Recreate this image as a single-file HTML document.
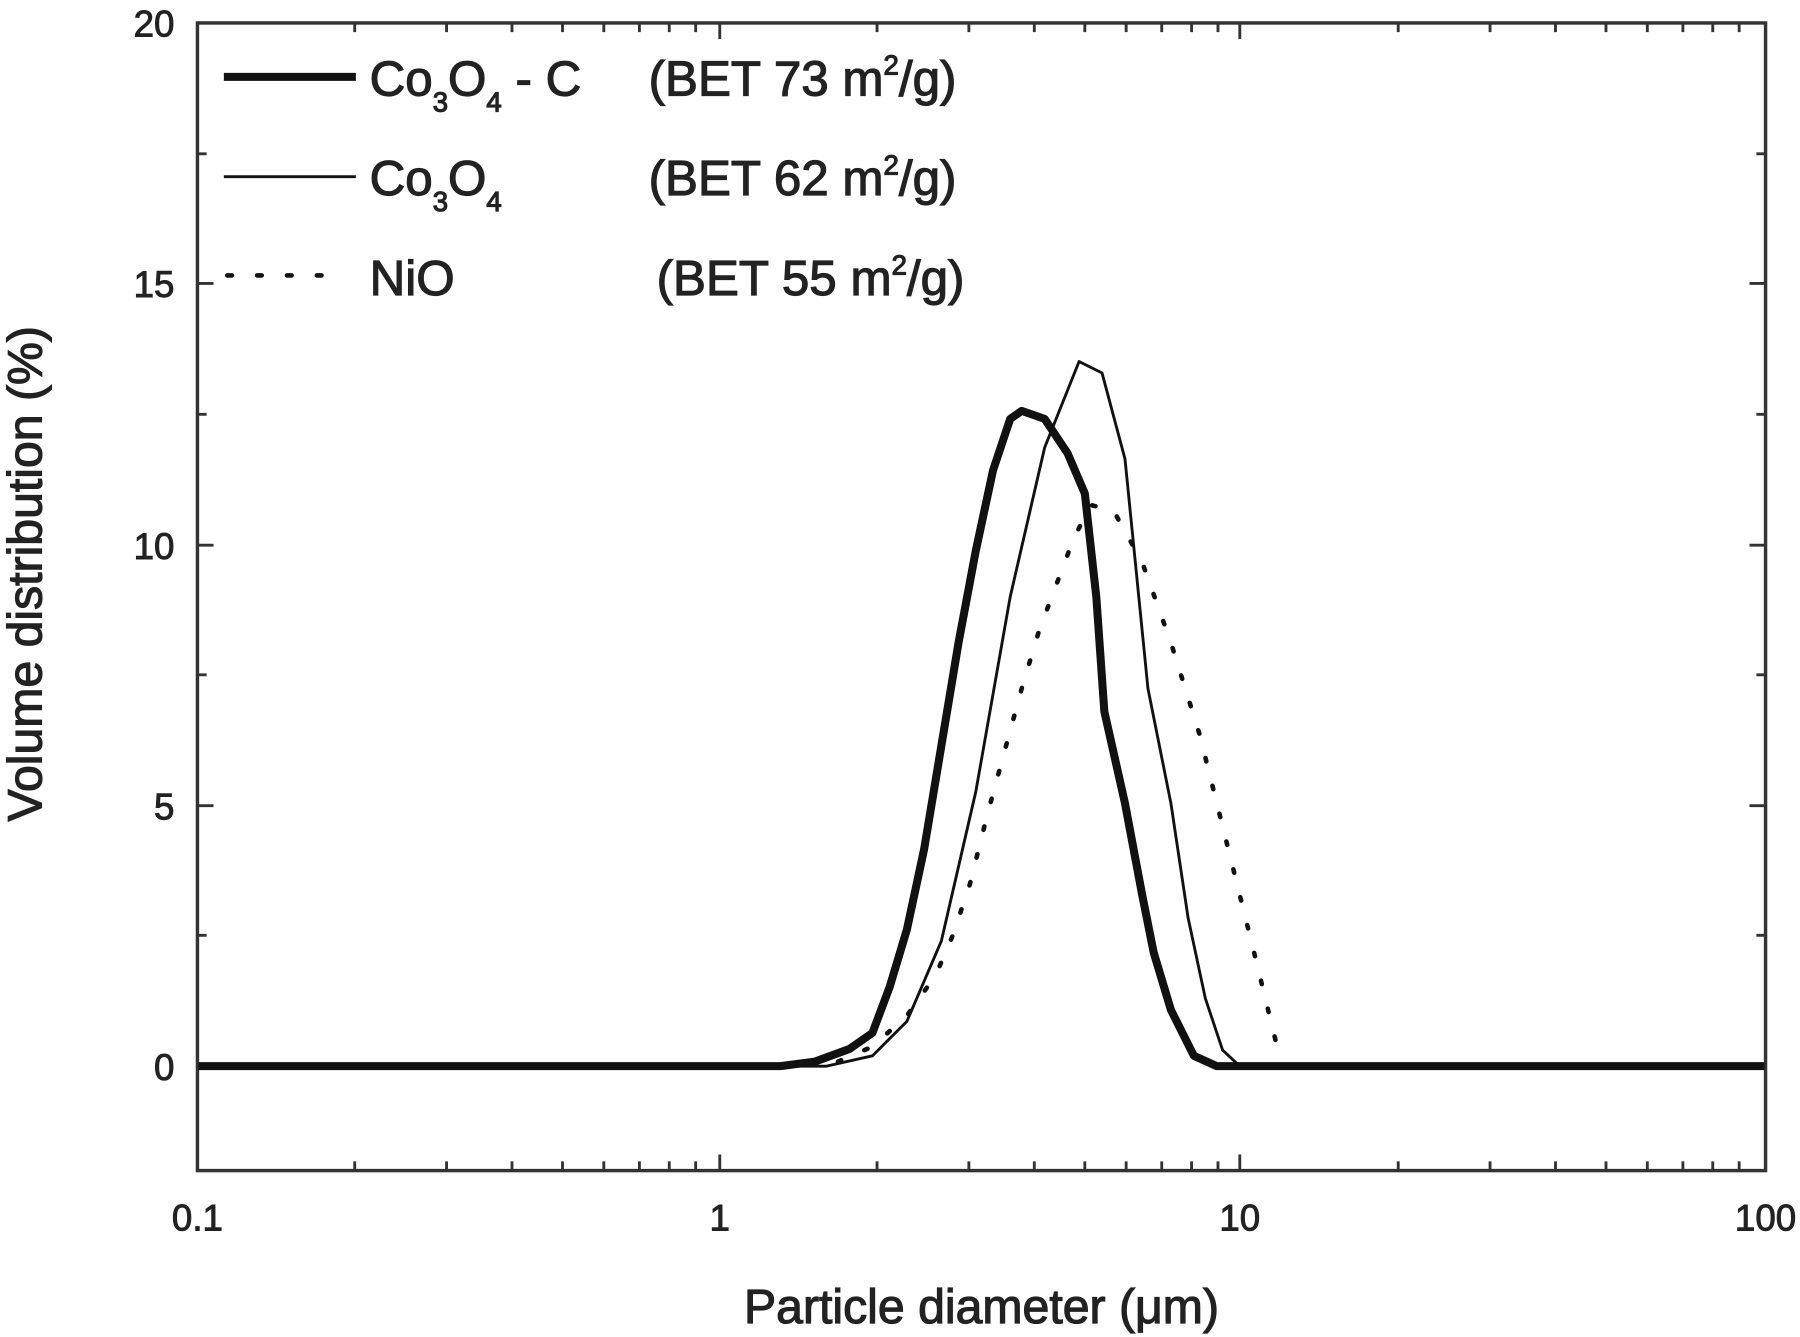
<!DOCTYPE html>
<html><head><meta charset="utf-8"><style>html,body{margin:0;padding:0;background:#fff}svg{display:block}</style></head><body>
<svg width="1800" height="1337" viewBox="0 0 1568 1165" preserveAspectRatio="none" xmlns="http://www.w3.org/2000/svg" font-family="Liberation Sans, sans-serif" fill="#222">
<rect x="172" y="20" width="1366" height="1000" fill="none" stroke="#333" stroke-width="3"/>
<g stroke="#333" stroke-width="2.5">
<path d="M172 929h14M172 702h14M172 475h14M172 247h14M1538 929h-14M1538 702h-14M1538 475h-14M1538 247h-14"/>
<path d="M172 815h8M172 588h8M172 361h8M172 134h8M1538 815h-8M1538 588h-8M1538 361h-8M1538 134h-8"/>
<path d="M627 1020v-14M1080 1020v-14M627 20v14M1080 20v14"/>
<path d="M309 1020v-8M389 1020v-8M446 1020v-8M490 1020v-8M526 1020v-8M557 1020v-8M583 1020v-8M606 1020v-8
M764 1020v-8M844 1020v-8M901 1020v-8M945 1020v-8M981 1020v-8M1012 1020v-8M1038 1020v-8M1061 1020v-8
M1218 1020v-8M1298 1020v-8M1355 1020v-8M1399 1020v-8M1435 1020v-8M1466 1020v-8M1492 1020v-8M1515 1020v-8
M309 20v8M389 20v8M446 20v8M490 20v8M526 20v8M557 20v8M583 20v8M606 20v8
M764 20v8M844 20v8M901 20v8M945 20v8M981 20v8M1012 20v8M1038 20v8M1061 20v8
M1218 20v8M1298 20v8M1355 20v8M1399 20v8M1435 20v8M1466 20v8M1492 20v8M1515 20v8"/>
</g>
<g font-size="32" text-anchor="end" stroke="#222" stroke-width="0.8">
<text x="152" y="941">0</text><text x="152" y="714">5</text><text x="152" y="487">10</text><text x="152" y="259">15</text><text x="152" y="32">20</text>
</g>
<g font-size="32" text-anchor="middle" stroke="#222" stroke-width="0.8">
<text x="172" y="1072">0.1</text><text x="627" y="1072">1</text><text x="1080" y="1072">10</text><text x="1538" y="1072">100</text>
</g>
<text x="855" y="1153" font-size="42" text-anchor="middle" stroke="#222" stroke-width="1">Particle diameter (μm)</text>
<text transform="translate(36,500) rotate(-90)" font-size="42" text-anchor="middle" stroke="#222" stroke-width="1">Volume distribution (%)</text>
<path d="M195 67H310" stroke="#111" stroke-width="7"/>
<path d="M195 154H310" stroke="#111" stroke-width="2.5"/>
<path d="M198 240H300" stroke="#111" stroke-width="4" stroke-dasharray="4 22" stroke-linecap="round"/>
<g font-size="43" stroke="#222" stroke-width="1">
<text x="322" y="83">Co<tspan font-size="24" dy="14">3</tspan><tspan dy="-14">O</tspan><tspan font-size="24" dy="14">4</tspan><tspan dy="-14"> - C</tspan></text>
<text x="565" y="83">(BET 73 m<tspan font-size="24" dy="-18">2</tspan><tspan dy="18">/g)</tspan></text>
<text x="322" y="170">Co<tspan font-size="24" dy="14">3</tspan><tspan dy="-14">O</tspan><tspan font-size="24" dy="14">4</tspan></text>
<text x="565" y="170">(BET 62 m<tspan font-size="24" dy="-18">2</tspan><tspan dy="18">/g)</tspan></text>
<text x="322" y="257">NiO</text>
<text x="572" y="257">(BET 55 m<tspan font-size="24" dy="-18">2</tspan><tspan dy="18">/g)</tspan></text>
</g>
<path d="M173 929L680 929L710 925L740 914L760 900L775 860L790 810L805 740L820 650L835 560L850 480L865 410L880 365L890 358L910 365L930 395L945 430L955 520L962 620L980 700L995 780L1005 830L1020 880L1040 920L1060 929L1537 929" fill="none" stroke="#111" stroke-width="7" stroke-linejoin="round"/>
<path d="M173 929L720 929L760 920L790 890L820 820L850 690L880 520L910 390L940 315L960 325L980 400L1000 600L1020 700L1035 800L1050 870L1065 915L1080 929L1537 929" fill="none" stroke="#111" stroke-width="2.5" stroke-linejoin="round"/>
<path d="M730 925L760 912L790 885L815 850L830 815L845 770L860 710L875 655L890 600L905 550L920 510L935 470L950 440L970 445L995 490L1020 560L1045 640L1070 740L1090 820L1112 910" fill="none" stroke="#111" stroke-width="4" stroke-dasharray="3 22" stroke-linecap="round"/>
</svg>
</body></html>
